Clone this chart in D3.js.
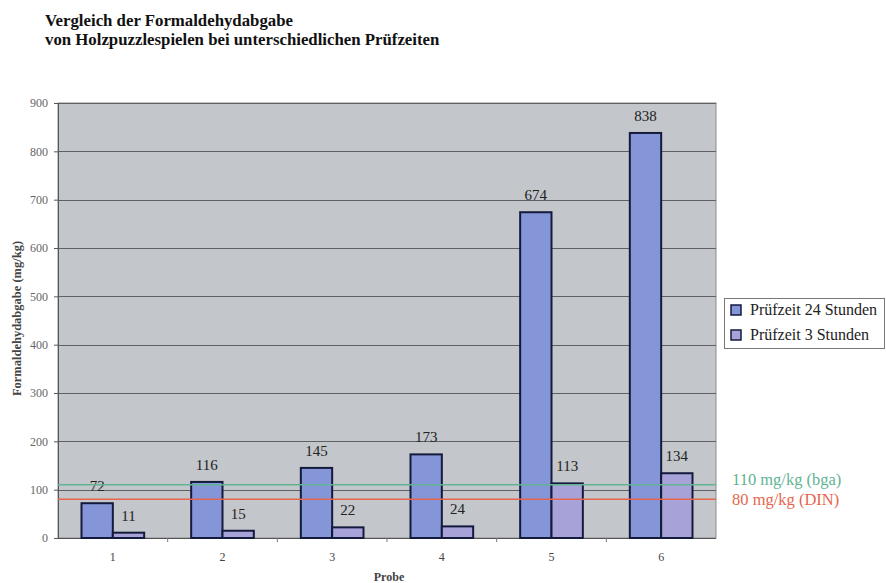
<!DOCTYPE html>
<html>
<head>
<meta charset="utf-8">
<script src="https://cdn.jsdelivr.net/npm/d3@7"></script>
<style>
  html, body { margin: 0; padding: 0; background: #fff; }
  svg { display: block; }
  svg text { font-family: "Liberation Serif", "Times New Roman", serif; }
</style>
</head>
<body>
<svg id="chart" width="886" height="583"></svg>
<script>
// Formaldehyde emission of wooden puzzles, two test durations
const proben = ["1", "2", "3", "4", "5", "6"];
const serien = ["Prüfzeit 24 Stunden", "Prüfzeit 3 Stunden"];
const werte24h = [72, 116, 145, 173, 674, 838];
const werte3h = [11, 15, 22, 24, 113, 134];
const yTicks = [0, 100, 200, 300, 400, 500, 600, 700, 800, 900];
const grenzwerte = [
  { wert: 110, label: "110 mg/kg (bga)", farbe: "#62b394" },
  { wert: 80,  label: "80 mg/kg (DIN)",  farbe: "#e8654d" }
];
const titelZeilen = [
  "Vergleich der Formaldehydabgabe",
  "von Holzpuzzlespielen bei unterschiedlichen Prüfzeiten"
];

const farben = ["#8596d8", "#a7a3d9"];
const serif = "Liberation Serif, Times New Roman, serif";

const svg = d3.select("#chart");
const plot = { left: 58, right: 716, top: 103, bottom: 538 };

const x0 = d3.scaleBand().domain(proben).range([plot.left, plot.right]);
// gap width 150%: both bars together take 2/3.5 of a category
const groupW = x0.bandwidth() * 2 / 3.5;
const x1 = d3.scaleBand().domain(serien).range([0, groupW]);
const y = d3.scaleLinear().domain([0, 900]).range([plot.bottom, plot.top]);

// title
svg.append("g").selectAll("text").data(titelZeilen).join("text")
  .attr("x", 45).attr("y", (d, i) => 26 + i * 19)
  .attr("font-size", 16.8).attr("font-weight", "bold").attr("fill", "#111")
  .text(d => d);

// plot background
svg.append("rect")
  .attr("x", plot.left).attr("y", plot.top)
  .attr("width", plot.right - plot.left).attr("height", plot.bottom - plot.top)
  .attr("fill", "#c3c6ca").attr("stroke", "#8a8c90").attr("stroke-width", 1);

// gridlines
svg.append("g").selectAll("line").data(yTicks.filter(t => t > 0)).join("line")
  .attr("x1", plot.left).attr("x2", plot.right)
  .attr("y1", d => Math.round(y(d)) + 0.5).attr("y2", d => Math.round(y(d)) + 0.5)
  .attr("stroke", "#5e6063").attr("stroke-width", 1);

// y axis
const yAxis = d3.axisLeft(y).tickValues(yTicks).tickSize(4).tickPadding(6);
const gy = svg.append("g").attr("transform", `translate(${plot.left},0)`).call(yAxis)
  .attr("font-family", serif);
gy.select(".domain").attr("stroke", "#555");
gy.selectAll(".tick line").attr("stroke", "#555");
gy.selectAll(".tick text").attr("font-size", 12).attr("fill", "#666");

// x axis: ticks at category boundaries, labels at centers
const gx = svg.append("g").attr("transform", `translate(0,${plot.bottom})`);
gx.append("line").attr("x1", plot.left).attr("x2", plot.right).attr("y1", 0.5).attr("y2", 0.5)
  .attr("stroke", "#555");
gx.selectAll("line.tk").data(proben.slice(1)).join("line").attr("class", "tk")
  .attr("x1", d => x0(d)).attr("x2", d => x0(d)).attr("y1", 0).attr("y2", 4)
  .attr("stroke", "#777");
gx.selectAll("text").data(proben).join("text")
  .attr("x", d => x0(d) + x0.bandwidth() / 2).attr("y", 23)
  .attr("text-anchor", "middle").attr("font-size", 12).attr("fill", "#444")
  .text(d => d);

// axis titles
svg.append("text").attr("x", 389).attr("y", 581).attr("text-anchor", "middle")
  .attr("font-size", 12).attr("font-weight", "bold").attr("fill", "#444").text("Probe");
svg.append("text")
  .attr("transform", `translate(21,${(plot.top + plot.bottom) / 2 - 2}) rotate(-90)`)
  .attr("text-anchor", "middle").attr("font-size", 12.5).attr("font-weight", "bold").attr("fill", "#444")
  .text("Formaldehydabgabe (mg/kg)");

// bars
const daten = proben.map((p, i) => ({ probe: p, werte: [werte24h[i], werte3h[i]] }));
const gruppen = svg.append("g").selectAll("g").data(daten).join("g")
  .attr("transform", d => `translate(${x0(d.probe) + (x0.bandwidth() - groupW) / 2},0)`);
gruppen.selectAll("rect").data(d => d.werte.map((v, j) => ({ serie: serien[j], v, j })))
  .join("rect")
  .attr("x", d => x1(d.serie)).attr("y", d => y(d.v))
  .attr("width", x1.bandwidth()).attr("height", d => y(0) - y(d.v))
  .attr("fill", d => farben[d.j]).attr("stroke", "#141a3c").attr("stroke-width", 2);

// limit lines, drawn over the bars
svg.append("g").selectAll("line").data(grenzwerte).join("line")
  .attr("x1", plot.left).attr("x2", plot.right)
  .attr("y1", d => y(d.wert)).attr("y2", d => y(d.wert))
  .attr("stroke", d => d.farbe).attr("stroke-width", 1.5);

// value labels
gruppen.selectAll("text").data(d => d.werte.map((v, j) => ({ serie: serien[j], v, j })))
  .join("text")
  .attr("x", d => x1(d.serie) + x1.bandwidth() / 2).attr("y", d => y(d.v) - 12)
  .attr("text-anchor", "middle").attr("font-size", 15).attr("fill", "#222")
  .text(d => d.v);

// limit labels
svg.append("g").selectAll("text").data(grenzwerte).join("text")
  .attr("x", 732).attr("y", (d, i) => 485 + i * 20)
  .attr("font-size", 16.5).attr("fill", d => d.farbe)
  .text(d => d.label);

// legend
const lg = svg.append("g").attr("transform", "translate(724,298)");
lg.append("rect").attr("x", 0.5).attr("y", 0.5).attr("width", 160).attr("height", 50)
  .attr("fill", "#fff").attr("stroke", "#777");
const items = lg.selectAll("g").data(serien).join("g")
  .attr("transform", (d, i) => `translate(7,${12 + i * 25})`);
items.append("rect").attr("x", 0).attr("y", -5).attr("width", 10).attr("height", 10)
  .attr("fill", (d, i) => farben[i]).attr("stroke", "#141a3c").attr("stroke-width", 1.5);
items.append("text").attr("x", 19).attr("y", 5).attr("font-size", 16).attr("fill", "#222")
  .text(d => d);
</script>
</body>
</html>
